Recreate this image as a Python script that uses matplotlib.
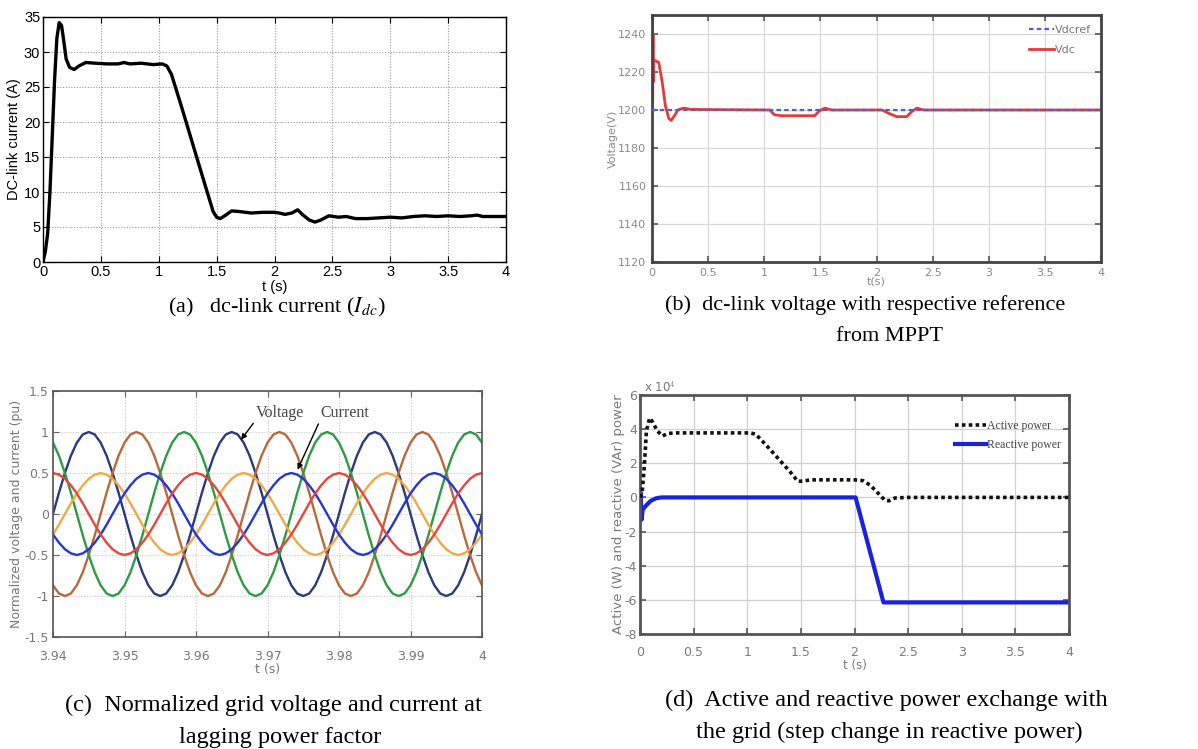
import numpy as np
import matplotlib
matplotlib.use("Agg")
import matplotlib.pyplot as plt

plt.rcParams["mathtext.fontset"] = "stix"
plt.rcParams["axes.unicode_minus"] = False

W, H = 1198, 749

# ---------------- (a) dc-link current ----------------
t_idc = [0, 0.02, 0.04, 0.06, 0.08, 0.10, 0.12, 0.14, 0.16, 0.18, 0.20, 0.23,
         0.27, 0.31, 0.37, 0.45, 0.55, 0.65, 0.70, 0.75, 0.85, 0.95, 1.03, 1.07,
         1.11, 1.20, 1.30, 1.40, 1.47, 1.50, 1.53, 1.57, 1.63, 1.70, 1.80, 1.90,
         2.00, 2.04, 2.09, 2.15, 2.20, 2.24, 2.30, 2.35, 2.40, 2.47, 2.55, 2.62,
         2.70, 2.80, 2.90, 3.00, 3.10, 3.20, 3.30, 3.40, 3.50, 3.60, 3.70, 3.75,
         3.80, 3.90, 4.00]
i_dc = [0, 1.5, 4, 10, 18, 26, 32, 34.2, 33.8, 31.5, 29, 27.8,
        27.5, 28.0, 28.5, 28.4, 28.3, 28.3, 28.5, 28.3, 28.4, 28.2, 28.3, 28.0,
        26.8, 22.0, 16.5, 11.0, 7.2, 6.4, 6.2, 6.6, 7.3, 7.2, 7.0, 7.1,
        7.1, 7.0, 6.8, 7.0, 7.45, 6.8, 6.0, 5.7, 6.0, 6.6, 6.4, 6.5,
        6.2, 6.2, 6.3, 6.4, 6.3, 6.5, 6.6, 6.5, 6.6, 6.5, 6.6, 6.7,
        6.5, 6.5, 6.5]
a_xticks = [0, 0.5, 1, 1.5, 2, 2.5, 3, 3.5, 4]
a_xlabels = ["0", "0.5", "1", "1.5", "2", "2.5", "3", "3.5", "4"]
a_yticks = [0, 5, 10, 15, 20, 25, 30, 35]

# ---------------- (b) dc-link voltage ----------------
t_vdc = [0, 0.003, 0.006, 0.009, 0.012, 0.016, 0.03, 0.06, 0.09, 0.12, 0.15,
         0.17, 0.20, 0.23, 0.28, 0.35, 1.05, 1.09, 1.15, 1.45, 1.49, 1.54, 1.60,
         2.05, 2.10, 2.18, 2.27, 2.31, 2.36, 2.42, 4.0]
v_dc = [1200, 1250, 1205, 1240, 1215, 1226, 1226, 1225, 1215, 1202, 1195.5,
        1194.5, 1197, 1200, 1201, 1200.3, 1200, 1197.5, 1197, 1197, 1199.5, 1201, 1200,
        1200, 1198.5, 1196.5, 1196.5, 1199, 1201, 1200, 1200]
t_vref = [0, 4.0]
v_ref = [1200, 1200]
b_xticks = [0, 0.5, 1, 1.5, 2, 2.5, 3, 3.5, 4]
b_xlabels = ["0", "0.5", "1", "1.5", "2", "2.5", "3", "3.5", "4"]
b_yticks = [1120, 1140, 1160, 1180, 1200, 1220, 1240]

# ---------------- (c) grid voltage and current (pu) ----------------
# samples every 15 electrical degrees (1/1200 s) from 3.94 s to 4.00 s
t_grid = np.linspace(3.94, 4.00, 73)
va = [0, .26, .5, .71, .87, .97, 1, .97, .87, .71, .5, .26, 0, -.26, -.5, -.71, -.87, -.97, -1, -.97, -.87, -.71, -.5, -.26,
      0, .26, .5, .71, .87, .97, 1, .97, .87, .71, .5, .26, 0, -.26, -.5, -.71, -.87, -.97, -1, -.97, -.87, -.71, -.5, -.26,
      0, .26, .5, .71, .87, .97, 1, .97, .87, .71, .5, .26, 0, -.26, -.5, -.71, -.87, -.97, -1, -.97, -.87, -.71, -.5, -.26,
      0]
vb = [-.87, -.97, -1, -.97, -.87, -.71, -.5, -.26, 0, .26, .5, .71, .87, .97, 1, .97, .87, .71, .5, .26, 0, -.26, -.5, -.71,
      -.87, -.97, -1, -.97, -.87, -.71, -.5, -.26, 0, .26, .5, .71, .87, .97, 1, .97, .87, .71, .5, .26, 0, -.26, -.5, -.71,
      -.87, -.97, -1, -.97, -.87, -.71, -.5, -.26, 0, .26, .5, .71, .87, .97, 1, .97, .87, .71, .5, .26, 0, -.26, -.5, -.71,
      -.87]
vc = [.87, .71, .5, .26, 0, -.26, -.5, -.71, -.87, -.97, -1, -.97, -.87, -.71, -.5, -.26, 0, .26, .5, .71, .87, .97, 1, .97,
      .87, .71, .5, .26, 0, -.26, -.5, -.71, -.87, -.97, -1, -.97, -.87, -.71, -.5, -.26, 0, .26, .5, .71, .87, .97, 1, .97,
      .87, .71, .5, .26, 0, -.26, -.5, -.71, -.87, -.97, -1, -.97, -.87, -.71, -.5, -.26, 0, .26, .5, .71, .87, .97, 1, .97,
      .87]
ia = [-.25, -.13, 0, .13, .25, .35, .43, .48, .5, .48, .43, .35, .25, .13, 0, -.13, -.25, -.35, -.43, -.48, -.5, -.48, -.43, -.35,
      -.25, -.13, 0, .13, .25, .35, .43, .48, .5, .48, .43, .35, .25, .13, 0, -.13, -.25, -.35, -.43, -.48, -.5, -.48, -.43, -.35,
      -.25, -.13, 0, .13, .25, .35, .43, .48, .5, .48, .43, .35, .25, .13, 0, -.13, -.25, -.35, -.43, -.48, -.5, -.48, -.43, -.35,
      -.25]
ib = [-.25, -.35, -.43, -.48, -.5, -.48, -.43, -.35, -.25, -.13, 0, .13, .25, .35, .43, .48, .5, .48, .43, .35, .25, .13, 0, -.13,
      -.25, -.35, -.43, -.48, -.5, -.48, -.43, -.35, -.25, -.13, 0, .13, .25, .35, .43, .48, .5, .48, .43, .35, .25, .13, 0, -.13,
      -.25, -.35, -.43, -.48, -.5, -.48, -.43, -.35, -.25, -.13, 0, .13, .25, .35, .43, .48, .5, .48, .43, .35, .25, .13, 0, -.13,
      -.25]
ic = [.5, .48, .43, .35, .25, .13, 0, -.13, -.25, -.35, -.43, -.48, -.5, -.48, -.43, -.35, -.25, -.13, 0, .13, .25, .35, .43, .48,
      .5, .48, .43, .35, .25, .13, 0, -.13, -.25, -.35, -.43, -.48, -.5, -.48, -.43, -.35, -.25, -.13, 0, .13, .25, .35, .43, .48,
      .5, .48, .43, .35, .25, .13, 0, -.13, -.25, -.35, -.43, -.48, -.5, -.48, -.43, -.35, -.25, -.13, 0, .13, .25, .35, .43, .48,
      .5]
c_xticks = [3.94, 3.95, 3.96, 3.97, 3.98, 3.99, 4.00]
c_xlabels = ["3.94", "3.95", "3.96", "3.97", "3.98", "3.99", "4"]
c_yticks = [-1.5, -1, -0.5, 0, 0.5, 1, 1.5]
c_ylabels = ["-1.5", "-1", "-0.5", "0", "0.5", "1", "1.5"]

# ---------------- (d) active / reactive power (x 10^4) ----------------
t_p = [0, 0.02, 0.04, 0.06, 0.09, 0.12, 0.16, 0.21, 0.26, 0.35, 0.6, 0.8, 1.03,
       1.08, 1.2, 1.3, 1.4, 1.47, 1.50, 1.6, 1.8, 2.0, 2.08, 2.15, 2.22, 2.28,
       2.32, 2.38, 2.5, 3.0, 3.5, 4.0]
p_active = [0, 0.3, 1.8, 3.9, 4.65, 4.4, 3.9, 3.6, 3.75, 3.78, 3.78, 3.78, 3.78,
            3.7, 2.9, 2.2, 1.5, 0.95, 0.95, 1.03, 1.03, 1.03, 0.98, 0.7, 0.25, -0.15,
            -0.2, -0.03, 0, 0, 0, 0]
t_q = [0, 0.005, 0.015, 0.025, 0.04, 0.06, 0.1, 0.15, 0.2, 0.3, 2.01, 2.27, 4.0]
q_reactive = [0, 0.3, -1.3, -0.7, -0.6, -0.45, -0.2, -0.05, 0, 0, 0, -6.15, -6.15]
d_xticks = [0, 0.5, 1, 1.5, 2, 2.5, 3, 3.5, 4]
d_xlabels = ["0", "0.5", "1", "1.5", "2", "2.5", "3", "3.5", "4"]
d_yticks = [-8, -6, -4, -2, 0, 2, 4, 6]


def box(l, t, r, b):
    """Axes rectangle from pixel edges (left, top, right, bottom)."""
    return [l / W, 1 - b / H, (r - l) / W, (b - t) / H]


fig = plt.figure(figsize=(W / 100, H / 100), dpi=100)
fig.patch.set_facecolor("white")

# ---- (a)
ax = fig.add_axes(box(43, 17, 506, 262))
ax.plot(t_idc, i_dc, color="black", lw=2.4, solid_joinstyle="round")
ax.set_xlim(0, 4)
ax.set_ylim(0, 35)
ax.set_xticks(a_xticks)
ax.set_xticklabels(a_xlabels)
ax.set_yticks(a_yticks)
ax.grid(True, color="#9a9a9a", linestyle=(0, (1, 1.5)), lw=0.8)
ax.tick_params(direction="in", top=True, right=True, length=4, width=0.8,
               colors="black", labelsize=10.5, pad=2)
for lab in ax.get_xticklabels() + ax.get_yticklabels():
    lab.set_fontfamily("Liberation Sans")
for s in ax.spines.values():
    s.set_linewidth(1.0)
ax.set_xlabel("t (s)", fontsize=10.5, family="Liberation Sans", labelpad=1)
ax.set_ylabel("DC-link current (A)", fontsize=10.5, family="Liberation Sans", labelpad=2)

# ---- (b)
gray_txt = "#8a8a8a"
ax = fig.add_axes(box(652, 15, 1101, 262))
ax.plot(t_vref, v_ref, color="#4a5ee0", lw=1.6, ls=(0, (2, 1.5)), label="Vdcref", zorder=3)
ax.plot(t_vdc, v_dc, color="#e8383a", lw=2.0, label="Vdc", zorder=2)
ax.set_xlim(0, 4)
ax.set_ylim(1120, 1250)
ax.set_xticks(b_xticks)
ax.set_xticklabels(b_xlabels)
ax.set_yticks(b_yticks)
ax.grid(True, color="#d8d8d8", lw=0.9)
ax.tick_params(direction="in", top=True, right=True, length=4, width=1.2,
               colors="#555555", labelcolor=gray_txt, labelsize=8, pad=4)
for s in ax.spines.values():
    s.set_linewidth(2.0)
    s.set_color("#444444")
ax.set_xlabel("t(s)", fontsize=8, color=gray_txt, labelpad=-1)
ax.set_ylabel("Voltage(V)", fontsize=8, color=gray_txt, labelpad=0)
leg = ax.legend(loc="upper right", frameon=False, fontsize=8, handlelength=2.2,
                handletextpad=0.1, borderaxespad=0.5, labelspacing=0.9)
for txt in leg.get_texts():
    txt.set_color("#777777")

# ---- (c)
ax = fig.add_axes(box(53, 391, 482, 637))
col_v = ["#2b3a78", "#b8693c", "#2f9a44"]
col_i = ["#f2a848", "#2436d6", "#e6463c"]
for y, c in zip([va, vb, vc], col_v):
    ax.plot(t_grid, y, color=c, lw=1.7)
for y, c in zip([ia, ib, ic], col_i):
    ax.plot(t_grid, y, color=c, lw=1.7)
ax.set_xlim(3.94, 4.0)
ax.set_ylim(-1.5, 1.5)
ax.set_xticks(c_xticks)
ax.set_xticklabels(c_xlabels)
ax.set_yticks(c_yticks)
ax.set_yticklabels(c_ylabels)
ax.grid(True, color="#c8c8c8", linestyle=(0, (1, 1.5)), lw=0.8)
ax.tick_params(direction="in", top=True, right=True, length=4, width=0.8,
               colors="#666666", labelcolor="#777777", labelsize=9, pad=3)
ax.tick_params(axis="x", pad=9)
for s in ax.spines.values():
    s.set_linewidth(1.2)
    s.set_color("#555555")
ax.set_xlabel("t (s)", fontsize=9, color="#777777", labelpad=0)
ax.set_ylabel("Normalized voltage and current (pu)", fontsize=9, color="#777777", labelpad=1)
ax.annotate("Voltage", xy=(3.9663, 0.905), xytext=(3.9684, 1.23),
            fontsize=11.5, family="Liberation Serif", color="#444444", va="center",
            arrowprops=dict(arrowstyle="-|>", color="black", lw=1.0, mutation_scale=8,
                            shrinkA=0, shrinkB=0, relpos=(0.0, 0.1)))
ax.annotate("Current", xy=(3.9742, 0.54), xytext=(3.9774, 1.23),
            fontsize=11.5, family="Liberation Serif", color="#444444", va="center",
            arrowprops=dict(arrowstyle="-|>", color="black", lw=1.0, mutation_scale=8,
                            shrinkA=0, shrinkB=0, relpos=(0.0, 0.1)))

# ---- (d)
ax = fig.add_axes(box(640, 395, 1069, 634))
ax.plot(t_p, p_active, color="#111111", lw=2.6, ls=(0, (1, 0.9)), label="Active power", zorder=3)
ax.plot(t_q, q_reactive, color="#1a22e0", lw=3.0, label="Reactive power", zorder=2)
ax.set_xlim(0, 4)
ax.set_ylim(-8, 6)
ax.set_xticks(d_xticks)
ax.set_xticklabels(d_xlabels)
ax.set_yticks(d_yticks)
ax.grid(True, color="#d0d0d0", lw=0.9)
ax.tick_params(direction="in", top=True, right=True, length=4, width=1.2,
               colors="#555555", labelcolor="#7a7a7a", labelsize=9, pad=2)
ax.tick_params(axis="x", pad=9)
for s in ax.spines.values():
    s.set_linewidth(2.0)
    s.set_color("#555555")
ax.set_xlabel("t (s)", fontsize=8.5, color="#7a7a7a", labelpad=0)
ax.set_ylabel("Active (W) and reactive (VAr) power", fontsize=9.5, color="#7a7a7a", labelpad=0)
ax.text(0.01, 1.0, r"x 10$^4$", transform=ax.transAxes, fontsize=8.5, color="#7a7a7a",
        ha="left", va="bottom")
leg = ax.legend(loc="upper right", bbox_to_anchor=(1.0, 0.93), frameon=False,
                handlelength=2.6, handletextpad=0.1, borderaxespad=0.3, labelspacing=0.6,
                prop={"family": "Liberation Serif", "size": 8.5})
for txt in leg.get_texts():
    txt.set_color("#444444")

# ---- captions
cap_ab = dict(family="Liberation Serif", fontsize=16, color="black")
cap_cd = dict(family="Liberation Serif", fontsize=17.5, color="black")


def px(x, y):
    return x / W, 1 - y / H


fig.text(*px(277, 307), "(a)   dc-link current ($I_{dc}$)", ha="center", va="center", **cap_ab)
fig.text(*px(665, 305), "(b)  dc-link voltage with respective reference", ha="left", va="center", **cap_ab)
fig.text(*px(890, 336), "from MPPT", ha="center", va="center", **cap_ab)
fig.text(*px(65, 705), "(c)  Normalized grid voltage and current at", ha="left", va="center", **cap_cd)
fig.text(*px(280, 737), "lagging power factor", ha="center", va="center", **cap_cd)
fig.text(*px(665, 700), "(d)  Active and reactive power exchange with", ha="left", va="center", **cap_cd)
fig.text(*px(889, 732), "the grid (step change in reactive power)", ha="center", va="center", **cap_cd)

fig.savefig("out.png", dpi=100)
